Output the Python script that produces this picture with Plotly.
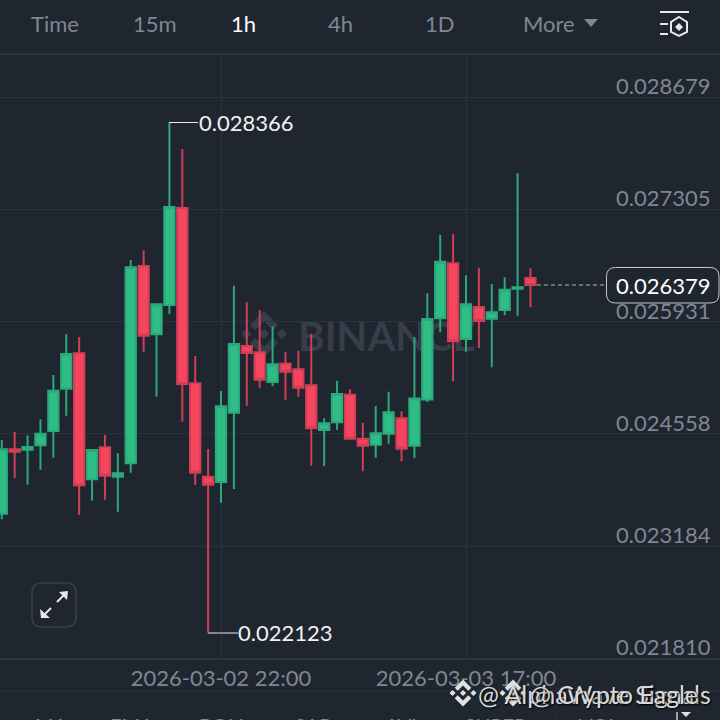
import pandas as pd
import plotly.graph_objects as go

# ---------- data ----------
times = pd.date_range("2026-03-02 05:00", periods=42, freq="h")
opens = [.023581,.024369,.024364,.024418,.024593,.025110,.025543,.024002,.024393,.024033,
         .024197,.026611,.025776,.026134,.027321,.025176,.024033,.023968,.024816,.025633,
         .025555,.025192,.025416,.025347,.025152,.024605,.024699,.025037,.024498,.024425,
         .024560,.024748,.024413,.024978,.025971,.026644,.025718,.026110,.025966,.026073,
         .026334,.026465]
highs = [.024482,.024580,.024540,.024736,.025278,.025776,.025743,.024372,.024544,.024320,
         .026685,.026803,.026146,.028366,.028043,.025510,.024372,.025082,.026370,.026167,
         .026069,.025874,.025563,.025575,.025783,.024748,.025208,.025103,.024694,.024898,
         .025073,.024834,.025743,.026277,.026991,.026999,.026498,.026591,.026391,.026473,
         .027746,.026583]
lows = [.023512,.024014,.023936,.024119,.024266,.024780,.023565,.023740,.023752,.023605,
        .024082,.025563,.025012,.026024,.024706,.023932,.022123,.023715,.023883,.024902,
        .025122,.025139,.024976,.025012,.024168,.024164,.024605,.024495,.024100,.024266,
        .024437,.024222,.024259,.024947,.025800,.025201,.025563,.025608,.025372,.026012,
        .026003,.026106]
closes = [.024369,.024339,.024397,.024560,.025086,.025535,.023928,.024360,.024046,.024075,
          .026595,.025759,.026143,.027333,.025168,.024082,.023936,.024895,.025657,.025547,
          .025220,.025409,.025318,.025122,.024626,.024687,.025045,.024498,.024413,.024564,
          .024821,.024376,.024990,.025963,.026664,.025690,.026143,.025938,.026045,.026321,
          .026351,.026379]
y_ticks = [0.028679, 0.027305, 0.025931, 0.024558, 0.023184, 0.021810]
x_ticks = ["2026-03-02 22:00", "2026-03-03 17:00"]
toolbar = ["Time", "15m", "1h", "4h", "1D", "More"]
indicators = ["MA", "EMA", "BOLL", "SAR", "AVL", "SUPER", "VOL"]
high_label, low_label, last_label = "0.028366", "0.022123", "0.026379"

# ---------- style ----------
W, H = 720, 720
BG, GRID, LINE = "#1f2630", "#2b313d", "#2e3542"
MUTED, UP, DOWN = "#7f8792", "#2ebd85", "#f6465d"
FONT = "Lato"
x_range = ["2026-03-02 04:51:43", "2026-03-04 12:41:50"]
y_range = [0.0218029, 0.0292051]
domain = [(H - 659) / H, (H - 54) / H]

def px(x): return x / W
def py(y): return 1 - y / H
def P(x, y): return f"{px(x):.5f} {py(y):.5f}"

def polygon(points):
    return "M" + " L".join(P(x, y) for x, y in points) + " Z"

def rrect(x0, y0, x1, y1, r):
    return (f"M{P(x0+r,y0)} L{P(x1-r,y0)} Q{P(x1,y0)} {P(x1,y0+r)} L{P(x1,y1-r)} Q{P(x1,y1)} {P(x1-r,y1)} "
            f"L{P(x0+r,y1)} Q{P(x0,y1)} {P(x0,y1-r)} L{P(x0,y0+r)} Q{P(x0,y0)} {P(x0+r,y0)} Z")

def logo(cx, cy, size, color, layer):
    s = size / 126.6
    polys = [
        [(38.73,53.2),(63.3,28.63),(87.9,53.22),(102.2,38.92),(63.3,0),(24.42,38.9)],
        [(0,63.31),(14.3,49),(28.6,63.31),(14.3,77.61)],
        [(38.73,73.41),(63.31,97.99),(87.89,73.41),(102.2,87.7),(63.31,126.6),(24.41,87.7)],
        [(98,63.31),(112.3,49),(126.6,63.31),(112.3,77.61)],
        [(77.83,63.3),(63.3,48.78),(48.8,63.3),(63.3,77.83)],
    ]
    return [dict(type="path", xref="paper", yref="paper", layer=layer, fillcolor=color, line_width=0,
                 path=polygon([(cx + (a - 63.3) * s, cy + (b - 63.3) * s) for a, b in poly])) for poly in polys]

def seg(x0, y0, x1, y1, color, w=1, layer="above"):
    return dict(type="line", xref="paper", yref="paper", x0=px(x0), y0=py(y0), x1=px(x1), y1=py(y1),
                line=dict(color=color, width=w), layer=layer)

def label(x, y, text, size=22, color=MUTED, anchor="center", **kw):
    return dict(xref="paper", yref="paper", x=px(x), y=py(y), text=text, showarrow=False, xanchor=anchor,
                yanchor="middle", font=dict(family=FONT, size=size, color=color, **kw))

# ---------- traces ----------
fig = go.Figure()
fig.add_trace(go.Scatter(x=["2026-03-03 10:52"], y=[0.025694], mode="text", text=["BINANCE"],
                         textfont=dict(family="Lato", size=40, color="#373d49", weight="bold"),
                         hoverinfo="skip", showlegend=False, cliponaxis=False))
fig.add_trace(go.Candlestick(x=times, open=opens, high=highs, low=lows, close=closes,
                             xaxis="x2", yaxis="y2", whiskerwidth=0, showlegend=False,
                             increasing=dict(fillcolor=UP, line=dict(color="#2aa97b", width=2)),
                             decreasing=dict(fillcolor=DOWN, line=dict(color="#cf3f55", width=2))))

# ---------- shapes ----------
shapes = []
shapes += logo(264, 334, 46, "#373d49", "below")
shapes += [seg(0, 54, 720, 54, LINE, 2), seg(0, 659, 720, 659, LINE, 2), seg(0, 691, 720, 691, LINE, 1)]
# header icon
shapes += [seg(660, 12, 689, 12, "#e6e8ea", 2), seg(660, 24, 668, 24, "#e6e8ea", 2), seg(660, 34, 668, 34, "#e6e8ea", 2)]
shapes.append(dict(type="path", xref="paper", yref="paper", line=dict(color="#e6e8ea", width=2),
                   path=polygon([(679,17),(687,22),(687,32),(679,36),(671,32),(671,22)])))
shapes.append(dict(type="path", xref="paper", yref="paper", fillcolor="#e6e8ea", line_width=0,
                   path=polygon([(679,23),(683,27),(679,31),(675,27)])))
# "More" triangle
shapes.append(dict(type="path", xref="paper", yref="paper", fillcolor=MUTED, line_width=0,
                   path=polygon([(584,19),(598,19),(591,27)])))
# high / low connectors
shapes += [seg(169, 122.5, 198, 122.5, "#e6e8ea", 1), seg(208, 633, 238, 633, "#e6e8ea", 1)]
# last price line and box
shapes.append(dict(type="line", xref="x", yref="y", x0="2026-03-03 22:30", x1="2026-03-04 03:50",
                   y0=closes[-1], y1=closes[-1], line=dict(color="#b4b9c0", width=1, dash="4px,3px")))
shapes.append(dict(type="path", xref="paper", yref="paper", path=rrect(606.5, 267.5, 719, 303, 9),
                   fillcolor=BG, line=dict(color="#c5c9ce", width=1)))
# expand button
shapes.append(dict(type="path", xref="paper", yref="paper", path=rrect(32, 583, 76, 627, 10),
                   line=dict(color="#393f4b", width=1.5)))
shapes += [seg(57, 602, 66, 593, "#e6e8ea", 2), seg(51, 608, 42, 617, "#e6e8ea", 2)]
shapes.append(dict(type="path", xref="paper", yref="paper", fillcolor="#e6e8ea", line_width=0,
                   path=polygon([(59,592),(68,591),(67,600)])))
shapes.append(dict(type="path", xref="paper", yref="paper", fillcolor="#e6e8ea", line_width=0,
                   path=polygon([(40,609),(41,618),(50,618)])))
# footer marks
shapes += logo(463, 693, 27, "#dfe1e4", "above")
shapes += logo(513, 693, 27, "#dfe1e4", "above")
shapes += [seg(555, 716, 555, 720, LINE, 1), seg(677, 712, 677, 720, "#c8ccd1", 1.5)]
shapes.append(dict(type="path", xref="paper", yref="paper", fillcolor="#dfe1e4", line_width=0,
                   path=polygon([(681,712),(691,712),(686,717)])))

# ---------- text ----------
ann = []
for name, x in zip(toolbar, [55, 155, 243, 340, 440, 549]):
    ann.append(label(x, 24, name, color="#ffffff" if name == "1h" else MUTED))
for v in y_ticks:
    ann.append(dict(xref="paper", yref="y", x=px(713), y=v, yshift=11.5, text=f"{v:.6f}", showarrow=False,
                    xanchor="right", yanchor="middle", font=dict(family=FONT, size=22, color=MUTED)))
ann.append(label(197, 122.5, high_label, color="#f0f1f2", anchor="left"))
ann.append(label(236, 632.5, low_label, color="#f0f1f2", anchor="left"))
ann.append(label(713, 285.5, last_label, color="#ffffff", anchor="right"))
shadow = "1px 1px 2px #000"
ann.append(label(713, 694, "@ AlphaWave Signals", size=25, color="#d8dadd", anchor="right", shadow=shadow))
ann.append(label(528, 694, "@ Crypto Eagle", size=25, color="#d8dadd", anchor="left", shadow=shadow))
for name, x in zip(indicators, [33, 108, 197, 293, 383, 463, 577]):
    ann.append(label(x, 725, name, size=20, anchor="left"))

fig.update_layout(
    width=W, height=H, autosize=False, margin=dict(l=0, r=0, t=0, b=0, pad=0),
    paper_bgcolor=BG, plot_bgcolor=BG, showlegend=False, boxgap=0.2, boxgroupgap=0,
    shapes=shapes, annotations=ann,
    xaxis=dict(type="date", range=x_range, domain=[0, 1], anchor="y", tickvals=x_ticks,
               tickformat="%Y-%m-%d %H:%M", tickfont=dict(family=FONT, size=22, color=MUTED), ticks="",
               showgrid=True, gridcolor=GRID, gridwidth=1, zeroline=False, showline=False, ticklabelstandoff=4),
    yaxis=dict(range=y_range, domain=domain, anchor="x", tickvals=y_ticks, showticklabels=False, ticks="",
               showgrid=True, gridcolor=GRID, gridwidth=1, zeroline=False, showline=False),
    xaxis2=dict(type="date", range=x_range, domain=[0, 1], overlaying="x", anchor="y2", visible=False,
                rangeslider=dict(visible=False)),
    yaxis2=dict(range=y_range, domain=domain, overlaying="y", anchor="x2", visible=False),
)
fig.write_html("out.html", config=dict(displayModeBar=False),
               post_script="document.body.style.margin='0';document.body.style.overflow='hidden';")
